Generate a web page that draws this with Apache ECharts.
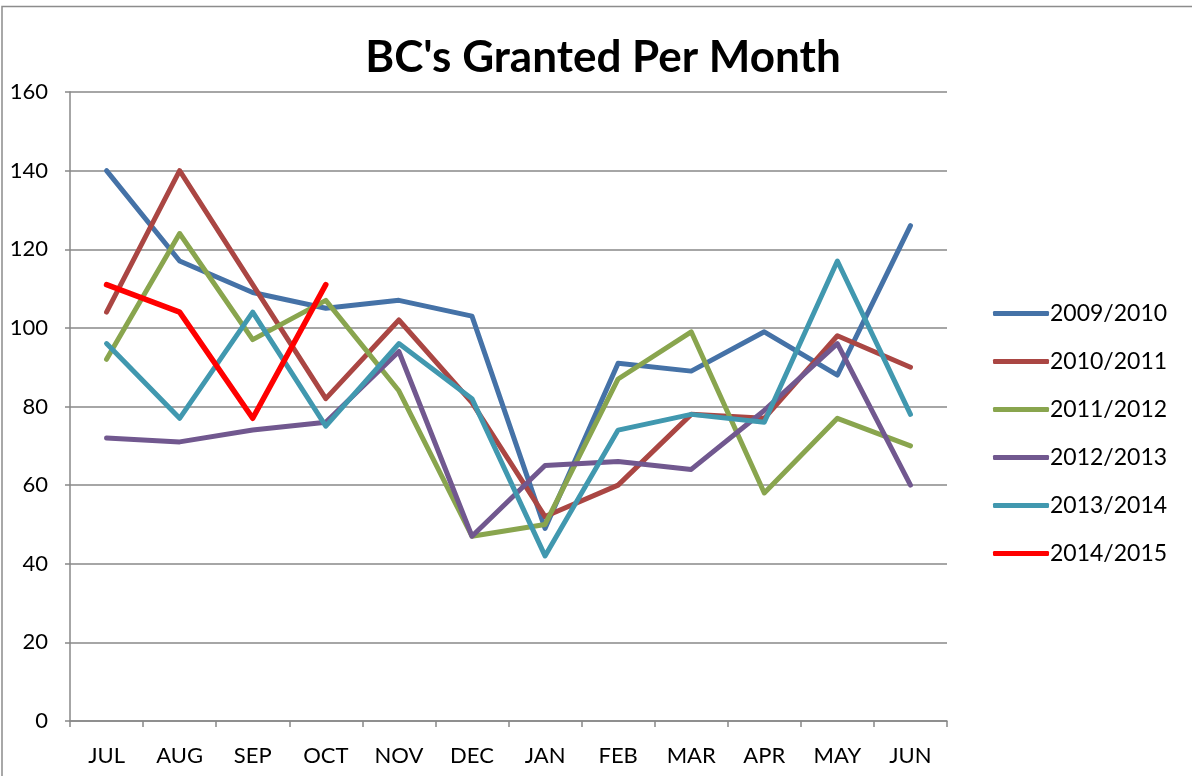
<!DOCTYPE html>
<html lang="en">
  <head>
    <meta charset="UTF-8" />
    <title>BC's Granted Per Month</title>
    <script src="https://cdn.jsdelivr.net/npm/echarts@6/dist/echarts.min.js"></script>
    <style>
      html, body { margin: 0; padding: 0; background: #fff; }
      #chart { width: 1192px; height: 776px; }
    </style>
  </head>
  <body>
    <div id="chart"></div>
    <script>
      var months = ['JUL', 'AUG', 'SEP', 'OCT', 'NOV', 'DEC', 'JAN', 'FEB', 'MAR', 'APR', 'MAY', 'JUN'];
      var seasons = ['2009/2010', '2010/2011', '2011/2012', '2012/2013', '2013/2014', '2014/2015'];
      var s2009 = [140, 117, 109, 105, 107, 103, 49, 91, 89, 99, 88, 126];
      var s2010 = [104, 140, 111, 82, 102, 81, 52, 60, 78, 77, 98, 90];
      var s2011 = [92, 124, 97, 107, 84, 47, 50, 87, 99, 58, 77, 70];
      var s2012 = [72, 71, 74, 76, 94, 47, 65, 66, 64, 79, 96, 60];
      var s2013 = [96, 77, 104, 75, 96, 82, 42, 74, 78, 76, 117, 78];
      var s2014 = [111, 104, 77, 111];
      var yTicks = [0, 20, 40, 60, 80, 100, 120, 140, 160];

      var lineColors = ['#4572a7', '#aa4643', '#89a54e', '#71588f', '#4198af', '#ff0000'];
      var seriesValues = [s2009, s2010, s2011, s2012, s2013, s2014];
      var fontName = 'Lato, "Open Sans", sans-serif';

      var chart = echarts.init(document.getElementById('chart'));

      var seriesList = [];
      for (var i = 0; i < seasons.length; i++) {
        seriesList.push({
          name: seasons[i],
          type: 'line',
          data: seriesValues[i],
          symbol: 'none',
          animation: false,
          lineStyle: { width: i === 5 ? 5.5 : 5, color: lineColors[i], cap: 'round', join: 'round' },
          itemStyle: { color: lineColors[i] }
        });
      }

      var option = {
        backgroundColor: '#fff',
        color: lineColors,
        title: {
          text: "BC's Granted Per Month",
          left: 598,
          textAlign: 'center',
          top: 31,
          textStyle: { fontFamily: fontName, fontSize: 44, fontWeight: 'bold', color: '#000' }
        },
        graphic: [
          {
            type: 'polyline',
            shape: { points: [[2, 776], [2, 6.5], [1192, 6.5]] },
            style: { stroke: '#8c8c8c', lineWidth: 1.5, fill: null }
          }
        ],
        legend: {
          orient: 'vertical',
          left: 988,
          top: 297,
          itemWidth: 56,
          itemHeight: 5,
          itemGap: 25,
          icon: 'roundRect',
          selectedMode: false,
          textStyle: { fontFamily: fontName, fontSize: 23, color: '#000', padding: [0, 0, 0, -4] },
          data: seasons
        },
        grid: { left: 70, right: 245, top: 92, bottom: 55 },
        xAxis: {
          type: 'category',
          data: months,
          boundaryGap: true,
          axisLine: { lineStyle: { color: '#888', width: 1.5 } },
          axisTick: { show: true, length: 6, lineStyle: { color: '#888', width: 1.5 } },
          axisLabel: { fontFamily: fontName, fontSize: 22, color: '#000', margin: 24 }
        },
        yAxis: {
          type: 'value',
          min: yTicks[0],
          max: yTicks[yTicks.length - 1],
          interval: 20,
          axisLine: { show: true, lineStyle: { color: '#888', width: 1.5 } },
          axisTick: { show: true, length: 5, lineStyle: { color: '#888', width: 1.5 } },
          axisLabel: { fontFamily: fontName, fontSize: 22, color: '#000', margin: 22 },
          splitLine: { lineStyle: { color: '#888', width: 1.5 } }
        },
        series: seriesList
      };

      chart.setOption(option);
    </script>
  </body>
</html>
